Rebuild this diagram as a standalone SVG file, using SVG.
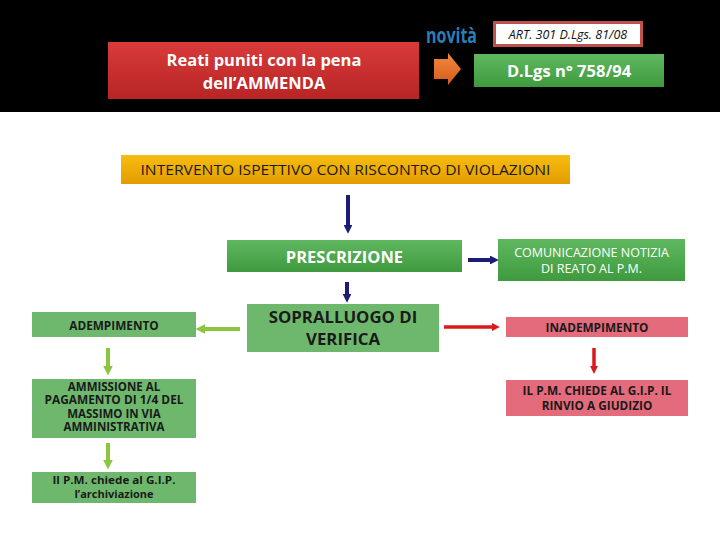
<svg xmlns="http://www.w3.org/2000/svg" width="720" height="540" viewBox="0 0 720 540">
<defs>
<linearGradient id="gRed" x1="0" y1="0" x2="0" y2="1"><stop offset="0" stop-color="#d93a3a"/><stop offset="1" stop-color="#b82525"/></linearGradient>
<linearGradient id="gGreen" x1="0" y1="0" x2="0" y2="1"><stop offset="0" stop-color="#5fb85f"/><stop offset="1" stop-color="#3f9a3f"/></linearGradient>
<linearGradient id="gYellow" x1="0" y1="0" x2="0" y2="1"><stop offset="0" stop-color="#f7bd10"/><stop offset="1" stop-color="#e39c00"/></linearGradient>
<linearGradient id="gOrange" x1="0" y1="0" x2="0" y2="1"><stop offset="0" stop-color="#f08a3c"/><stop offset="1" stop-color="#d85a1c"/></linearGradient>
<marker id="mBlue" markerWidth="2.2" markerHeight="2.2" refX="1" refY="1.1" orient="auto" markerUnits="strokeWidth"><path d="M0,0 L2.2,1.1 L0,2.2 Z" fill="#1c1c78"/></marker>
<marker id="mRed" markerWidth="2.4" markerHeight="2.4" refX="1" refY="1.2" orient="auto" markerUnits="strokeWidth"><path d="M0,0 L2.4,1.2 L0,2.4 Z" fill="#d91a1a"/></marker>
<marker id="mGreen" markerWidth="2.4" markerHeight="2.4" refX="1" refY="1.2" orient="auto" markerUnits="strokeWidth"><path d="M0,0 L2.4,1.2 L0,2.4 Z" fill="#8cc63e"/></marker>
</defs>
<style>
text{font-family:"Open Sans","Liberation Sans",sans-serif;text-anchor:middle;dominant-baseline:central}
.w{fill:#fff}
.wb{fill:#fff;font-weight:bold}
.kb{fill:#1a1a1a;font-weight:bold}
.flat{fill:#6db86d}
.pink{fill:#e36b7b}
.blue{stroke:#1c1c78;stroke-width:4;fill:none;marker-end:url(#mBlue)}
.red{stroke:#d91a1a;stroke-width:3.5;fill:none;marker-end:url(#mRed)}
.green{stroke:#8cc63e;stroke-width:4;fill:none;marker-end:url(#mGreen)}
</style>
<rect x="0" y="0" width="720" height="540" fill="#fff"/>
<rect x="0" y="0" width="720" height="112" fill="#000"/>

<g id="reati">
<rect x="108" y="42" width="311" height="57" fill="url(#gRed)"/>
<text class="wb" x="264" y="59" font-size="16.5">Reati puniti con la pena</text>
<text class="wb" x="264" y="82" font-size="16.5">dell’AMMENDA</text>
</g>
<g id="novita">
<text x="451.5" y="35" font-size="21" font-weight="bold" fill="#2d7db8" font-family="'DejaVu Sans','Liberation Sans',sans-serif" textLength="51" lengthAdjust="spacingAndGlyphs">novità</text>
</g>
<g id="art">
<rect x="494.5" y="22.5" width="147" height="23" fill="#fff" stroke="#c0504d" stroke-width="3"/>
<text x="568" y="34" font-size="12.5" font-style="italic" fill="#111">ART. 301 D.Lgs. 81/08</text>
</g>
<g id="freccia">
<path d="M434,59 L448,59 L448,53 L461,69 L448,85 L448,79 L434,79 Z" fill="url(#gOrange)"/>
</g>
<g id="dlgs">
<rect x="474" y="54" width="190" height="33" fill="url(#gGreen)"/>
<text class="wb" x="569" y="70.5" font-size="16.5">D.Lgs n° 758/94</text>
</g>

<g id="intervento">
<rect x="121" y="155" width="449" height="29" fill="url(#gYellow)"/>
<text x="345.5" y="169.5" font-size="14.5" fill="#1a1a1a" textLength="410" lengthAdjust="spacingAndGlyphs">INTERVENTO ISPETTIVO CON RISCONTRO DI VIOLAZIONI</text>
</g>
<g id="prescrizione">
<rect x="227" y="240" width="235" height="32" fill="url(#gGreen)"/>
<text class="wb" x="344.5" y="256" font-size="16.5">PRESCRIZIONE</text>
</g>
<g id="comunicazione">
<rect x="498" y="239" width="187" height="42" fill="url(#gGreen)"/>
<text class="w" x="591.5" y="252" font-size="12.5">COMUNICAZIONE NOTIZIA</text>
<text class="w" x="591.5" y="268" font-size="12.5">DI REATO AL P.M.</text>
</g>
<g id="sopralluogo">
<rect x="247" y="304" width="192" height="48" class="flat"/>
<text class="kb" x="343" y="316" font-size="16.8">SOPRALLUOGO DI</text>
<text class="kb" x="343" y="338" font-size="16.8">VERIFICA</text>
</g>
<g id="inadempimento">
<rect x="506" y="317" width="182" height="20" class="pink"/>
<text class="kb" x="597" y="327" font-size="11.8">INADEMPIMENTO</text>
</g>
<g id="rinvio">
<rect x="506" y="380" width="182" height="36" class="pink"/>
<text class="kb" x="597" y="390" font-size="11.8">IL P.M. CHIEDE AL G.I.P. IL</text>
<text class="kb" x="597" y="405" font-size="11.8">RINVIO A GIUDIZIO</text>
</g>
<g id="adempimento">
<rect x="32" y="312" width="164" height="25" class="flat"/>
<text class="kb" x="114" y="324.5" font-size="11.8">ADEMPIMENTO</text>
</g>
<g id="ammissione">
<rect x="32" y="379" width="164" height="59" class="flat"/>
<text class="kb" x="114" y="386" font-size="11.5">AMMISSIONE AL</text>
<text class="kb" x="114" y="399.5" font-size="11.5" textLength="139" lengthAdjust="spacingAndGlyphs">PAGAMENTO DI 1/4 DEL</text>
<text class="kb" x="114" y="413" font-size="11.5">MASSIMO IN VIA</text>
<text class="kb" x="114" y="426.5" font-size="11.5">AMMINISTRATIVA</text>
</g>
<g id="archiviazione">
<rect x="32" y="472" width="164" height="31" class="flat"/>
<text class="kb" x="114" y="479.5" font-size="11" textLength="123" lengthAdjust="spacingAndGlyphs">Il P.M. chiede al G.I.P.</text>
<text class="kb" x="114" y="493" font-size="11">l’archiviazione</text>
</g>

<g id="connettori">
<line class="blue" x1="348" y1="195" x2="348" y2="229"/>
<line class="blue" x1="468" y1="260" x2="494" y2="260"/>
<line class="blue" x1="347" y1="282" x2="347" y2="298"/>
<line class="red" x1="444" y1="327" x2="495" y2="327"/>
<line class="red" x1="594" y1="348" x2="594" y2="369"/>
<line class="green" x1="240" y1="329" x2="201" y2="329"/>
<line class="green" x1="108" y1="348" x2="108" y2="370"/>
<line class="green" x1="108" y1="443" x2="108" y2="464"/>
</g>
</svg>
